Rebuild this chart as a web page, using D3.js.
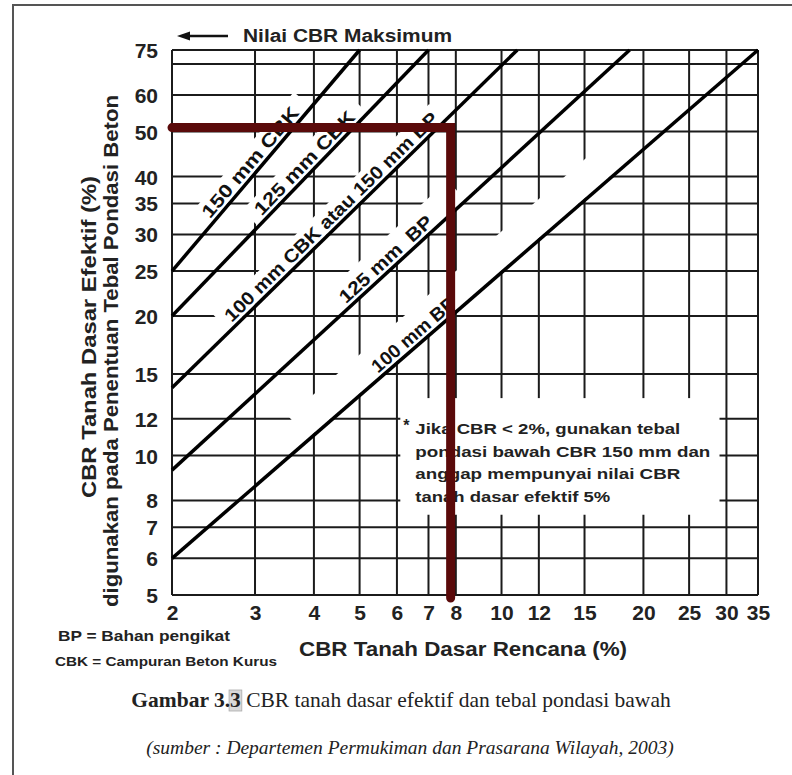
<!DOCTYPE html>
<html>
<head>
<meta charset="utf-8">
<script src="https://cdn.jsdelivr.net/npm/d3@7"></script>
<style>
  body { margin: 0; background: #fff; }
  svg { display: block; }
  .sans { font-family: "Liberation Sans", Arial, Helvetica, sans-serif; font-weight: bold; }
  .serif { font-family: "Liberation Serif", "Times New Roman", serif; }
</style>
</head>
<body>
<div id="chart"></div>
<script>
var width = 792,
    height = 775;

// sumbu x : CBR tanah dasar rencana (%)
var xTicks = [2, 3, 4, 5, 6, 7, 8, 10, 12, 15, 20, 25, 30, 35];
// sumbu y : CBR tanah dasar efektif (%)
var yTicks = [5, 6, 7, 8, 10, 12, 15, 20, 25, 30, 35, 40, 50, 60, 75];
var yGrid = [5, 6, 7, 8, 10, 12, 15, 20, 25, 30, 35, 40, 50, 60, 70, 75];

// garis tebal pondasi bawah, [x, y] di kedua ujung
var curveNames = ["150 mm CBK", "125 mm CBK", "100 mm CBK atau 150 mm BP", "125 mm  BP", "100 mm BP"];
var curveStart = [[2, 25], [2, 20], [2, 14], [2, 9.3], [2, 6]];
var curveEnd = [[5, 75], [7, 75], [10.8, 75], [18.7, 75], [35, 75]];

// letak label sepanjang garis (rentang nilai x)
var labelFrom = [2.45, 3.15, 2.72, 4.75, 5.55];
var labelTo = [3.8, 5.0, 7.5, 7.3, 8.15];
// pita putih di bawah label (rentang nilai x)
var bandFrom = [2.35, 3.05, 2.65, 4.55, 3.9];
var bandTo = [3.95, 5.2, 7.6, 8.4, 18.3];
var bandWidth = [23, 23, 23, 27, 31];

// contoh pembacaan (garis merah)
var readX = 7.8,
    readY = 51;

var noteLines = ["Jika CBR < 2%, gunakan tebal", "pondasi bawah CBR 150 mm dan",
                 "anggap mempunyai nilai CBR", "tanah dasar efektif 5%"];
var noteWidths = [265, 295, 265, 195];

var svg = d3.select("#chart").append("svg")
  .attr("width", width)
  .attr("height", height);

svg.append("rect").attr("width", width).attr("height", height).attr("fill", "#fff");
svg.append("rect")
  .attr("x", 13).attr("y", 5)
  .attr("width", 900).attr("height", 900)
  .attr("fill", "none").attr("stroke", "#555").attr("stroke-width", 2);

var x = d3.scaleLog().domain([2, 35]).range([172, 758]);
var y = d3.scaleLog().domain([5, 75]).range([595, 50]);

function yOnCurve(i, xv) {
  var a = curveStart[i], b = curveEnd[i];
  var t = (Math.log(xv) - Math.log(a[0])) / (Math.log(b[0]) - Math.log(a[0]));
  return Math.exp(Math.log(a[1]) + t * (Math.log(b[1]) - Math.log(a[1])));
}
function pt(i, xv) { return [x(xv), y(yOnCurve(i, xv))]; }
function dir(i) {
  var p0 = pt(i, curveStart[i][0]), p1 = pt(i, curveEnd[i][0]);
  var dx = p1[0] - p0[0], dy = p1[1] - p0[1], len = Math.hypot(dx, dy);
  return { ux: dx / len, uy: dy / len, nx: dy / len, ny: -dx / len, ang: Math.atan2(dy, dx) * 180 / Math.PI };
}

// grid
var grid = svg.append("g").attr("stroke", "#1b1b1b").attr("stroke-width", 2);
grid.selectAll(".vgrid").data(xTicks).enter().append("line")
  .attr("x1", function(d) { return x(d); })
  .attr("x2", function(d) { return x(d); })
  .attr("y1", y(75)).attr("y2", y(5));
grid.selectAll(".hgrid").data(yGrid).enter().append("line")
  .attr("x1", x(2)).attr("x2", x(35))
  .attr("y1", function(d) { return y(d); })
  .attr("y2", function(d) { return y(d); });

// pita putih (celah grid di sekitar label)
svg.append("g").selectAll("polygon").data(curveNames).enter().append("polygon")
  .attr("fill", "#fff")
  .attr("points", function(d, i) {
    var n = dir(i), a = pt(i, bandFrom[i]), b = pt(i, bandTo[i]), w = bandWidth[i];
    return [
      [a[0] + n.nx * 1.5, a[1] + n.ny * 1.5],
      [b[0] + n.nx * 1.5, b[1] + n.ny * 1.5],
      [b[0] + n.nx * w, b[1] + n.ny * w],
      [a[0] + n.nx * w, a[1] + n.ny * w]
    ].join(" ");
  });

// kotak catatan
var noteX0 = x(6.1), noteX1 = x(29), noteY0 = y(13.3), noteY1 = y(7.45);
svg.append("rect")
  .attr("x", noteX0).attr("y", noteY0)
  .attr("width", noteX1 - noteX0).attr("height", noteY1 - noteY0)
  .attr("fill", "#fff");

// garis diagonal
var line = d3.line()
  .x(function(d) { return x(d[0]); })
  .y(function(d) { return y(d[1]); });
svg.append("g").selectAll("path").data(curveNames).enter().append("path")
  .attr("d", function(d, i) { return line([curveStart[i], curveEnd[i]]); })
  .attr("fill", "none").attr("stroke", "#000").attr("stroke-width", 3.5);

// label garis
svg.append("g").selectAll("text").data(curveNames).enter().append("text")
  .attr("class", "sans")
  .style("white-space", "pre")
  .attr("font-size", 18.5)
  .attr("fill", "#111")
  .attr("transform", function(d, i) {
    var n = dir(i), p = pt(i, labelFrom[i]);
    return "translate(" + (p[0] + n.nx * 4.5) + "," + (p[1] + n.ny * 4.5) + ") rotate(" + n.ang + ")";
  })
  .attr("textLength", function(d, i) {
    var a = pt(i, labelFrom[i]), b = pt(i, labelTo[i]);
    return Math.hypot(b[0] - a[0], b[1] - a[1]);
  })
  .attr("lengthAdjust", "spacingAndGlyphs")
  .text(function(d) { return d; });

// teks catatan
var note = svg.append("g").attr("class", "sans").attr("fill", "#222");
note.append("text").attr("x", noteX0 + 3).attr("y", noteY0 + 33).attr("font-size", 16).text("*");
note.selectAll(".nl").data(noteLines).enter().append("text")
  .attr("x", noteX0 + 15)
  .attr("y", function(d, i) { return noteY0 + 36 + i * 22.5; })
  .attr("font-size", 15)
  .attr("textLength", function(d, i) { return noteWidths[i]; })
  .attr("lengthAdjust", "spacingAndGlyphs")
  .text(function(d) { return d; });

// sumbu
var yAxis = svg.append("g")
  .attr("transform", "translate(" + x(2) + ",0)")
  .call(d3.axisLeft(y).tickValues(yTicks).tickSize(0).tickPadding(14).tickFormat(d3.format("d")));
var xAxis = svg.append("g")
  .attr("transform", "translate(0," + y(5) + ")")
  .call(d3.axisBottom(x).tickValues(xTicks).tickSize(0).tickPadding(10).tickFormat(d3.format("d")));
[yAxis, xAxis].forEach(function(ax) {
  ax.select(".domain").remove();
  ax.selectAll("text")
    .attr("font-family", "'Liberation Sans', Arial, sans-serif")
    .attr("font-weight", "bold")
    .attr("font-size", 21)
    .attr("fill", "#222");
});
yAxis.selectAll("text").attr("dy", "0.36em");

// garis merah pembacaan
svg.append("path")
  .attr("d", "M" + x(2) + "," + y(readY) + "H" + x(readX) + "V" + (y(5) + 3))
  .attr("fill", "none")
  .attr("stroke", "#5a0a0a")
  .attr("stroke-width", 9)
  .attr("stroke-linecap", "round")
  .attr("stroke-linejoin", "miter");

// Nilai CBR Maksimum
svg.append("line")
  .attr("x1", 186).attr("x2", 228).attr("y1", 36).attr("y2", 36)
  .attr("stroke", "#111").attr("stroke-width", 2.5);
svg.append("path")
  .attr("d", "M177,36 L190,31.5 L190,40.5 Z")
  .attr("fill", "#111");
svg.append("text").attr("class", "sans")
  .attr("x", 243).attr("y", 42)
  .attr("font-size", 18)
  .attr("textLength", 209).attr("lengthAdjust", "spacingAndGlyphs")
  .attr("fill", "#222")
  .text("Nilai CBR Maksimum");

// judul sumbu y
svg.append("text").attr("class", "sans")
  .attr("transform", "translate(96,337) rotate(-90)")
  .attr("text-anchor", "middle")
  .attr("font-size", 21)
  .attr("textLength", 322).attr("lengthAdjust", "spacingAndGlyphs")
  .attr("fill", "#222")
  .text("CBR Tanah Dasar Efektif (%)");
svg.append("text").attr("class", "sans")
  .attr("transform", "translate(118,351) rotate(-90)")
  .attr("text-anchor", "middle")
  .attr("font-size", 21)
  .attr("textLength", 512).attr("lengthAdjust", "spacingAndGlyphs")
  .attr("fill", "#222")
  .text("digunakan pada Penentuan Tebal Pondasi Beton");

// judul sumbu x
svg.append("text").attr("class", "sans")
  .attr("x", 299).attr("y", 656)
  .attr("font-size", 21)
  .attr("textLength", 328).attr("lengthAdjust", "spacingAndGlyphs")
  .attr("fill", "#222")
  .text("CBR Tanah Dasar Rencana (%)");

// keterangan singkatan
svg.append("text").attr("class", "sans")
  .attr("x", 58).attr("y", 641)
  .attr("font-size", 14)
  .attr("textLength", 172).attr("lengthAdjust", "spacingAndGlyphs")
  .attr("fill", "#222")
  .text("BP = Bahan pengikat");
svg.append("text").attr("class", "sans")
  .attr("x", 55).attr("y", 666)
  .attr("font-size", 13)
  .attr("textLength", 222).attr("lengthAdjust", "spacingAndGlyphs")
  .attr("fill", "#222")
  .text("CBK = Campuran Beton Kurus");

// caption
var cap = svg.append("text").attr("class", "serif")
  .attr("x", 401).attr("y", 707)
  .attr("text-anchor", "middle")
  .attr("font-size", 21.5)
  .attr("fill", "#222");
cap.append("tspan").attr("font-weight", "bold").text("Gambar 3.");
cap.append("tspan").attr("font-weight", "bold").text("3");
cap.append("tspan").text(" CBR tanah dasar efektif dan tebal pondasi bawah");

var capNode = cap.node();
var s = capNode.getStartPositionOfChar(9), e = capNode.getEndPositionOfChar(9);
svg.insert("rect", function() { return capNode; })
  .attr("x", s.x - 1).attr("y", 690)
  .attr("width", e.x - s.x + 2).attr("height", 21)
  .attr("fill", "#d9d9d9").attr("stroke", "#aaa").attr("stroke-width", 0.8);

svg.append("text").attr("class", "serif")
  .attr("x", 410).attr("y", 754)
  .attr("text-anchor", "middle")
  .attr("font-size", 19.5)
  .attr("font-style", "italic")
  .attr("fill", "#222")
  .text("(sumber : Departemen Permukiman dan Prasarana Wilayah, 2003)");
</script>
</body>
</html>
